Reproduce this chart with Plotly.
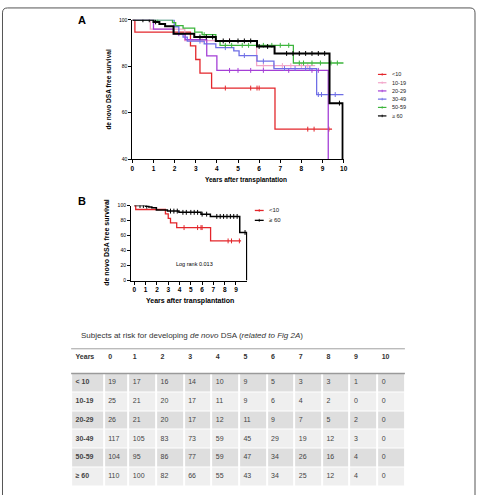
import plotly.graph_objects as go

W, H = 480, 498
FONT = "Liberation Sans, Arial, sans-serif"

# ---------------- data ----------------
groups = ["<10", "10-19", "20-29", "30-49", "50-59", "≥ 60"]
colors = ["#e3262b", "#f2a5c9", "#a43fd6", "#6e6ee6", "#3db53d", "#000000"]

lt10_t = [0, 0.12, 2.75, 3.0, 3.2, 3.75, 6.75, 9.45]
lt10_s = [100, 94.7, 88.8, 82.9, 77.0, 70.6, 52.9, 52.9]
lt10_c = [4.4, 5.6, 5.9, 6.0, 8.3, 8.6, 9.3]

g1019_t = [0, 0.85, 2.48, 5.88, 8.65]
g1019_s = [100, 96.0, 91.0, 80.3, 80.3]
g1019_c = [3.3, 4.6, 6.2, 6.7, 7.1, 7.5, 8.0, 8.3]

g2029_t = [0, 1.0, 1.95, 2.5, 3.52, 4.0, 9.27]
g2029_s = [100, 96.0, 94.0, 91.5, 84.5, 78.2, 0]
g2029_c = [2.2, 4.6, 5.0, 5.6, 6.2, 7.4, 8.5, 8.8]

g3049_t = [0, 1.98, 2.2, 2.4, 2.6, 3.4, 3.95, 4.8, 5.05, 5.9, 6.7, 8.72, 10.0]
g3049_s = [100, 97.0, 94.0, 92.5, 90.8, 89.6, 88.0, 86.6, 84.6, 82.2, 79.0, 67.8, 67.8]
g3049_c = [3.2, 4.4, 5.3, 6.2, 7.2, 7.7, 8.2, 8.4, 8.8, 8.95, 9.6]

g5059_t = [0, 1.9, 2.05, 2.4, 2.95, 3.3, 3.95, 4.15, 7.62, 10.0]
g5059_s = [100, 98.8, 97.5, 96.4, 94.7, 93.6, 91.0, 89.0, 81.4, 81.4]
g5059_c = [1.2, 3.4, 4.4, 4.7, 5.2, 5.5, 6.2, 6.6, 7.0, 7.4, 7.9, 8.1, 8.5, 8.9, 9.4, 9.7]

ge60_t = [0, 1.0, 1.28, 1.55, 1.95, 2.93, 3.95, 5.9, 6.73, 9.33, 9.95]
ge60_s = [100, 99.1, 98.2, 97.2, 94.0, 92.6, 90.9, 88.5, 85.5, 64.1, 0]
ge60_c = [0.5, 0.8, 1.1, 3.2, 3.5, 3.8, 4.3, 4.6, 5.0, 5.3, 5.6, 6.0, 6.4, 7.3, 7.6, 7.9, 8.2, 8.5, 8.8, 9.1, 9.8]

curves = [
    (lt10_t, lt10_s, lt10_c),
    (g1019_t, g1019_s, g1019_c),
    (g2029_t, g2029_s, g2029_c),
    (g3049_t, g3049_s, g3049_c),
    (g5059_t, g5059_s, g5059_c),
    (ge60_t, ge60_s, ge60_c),
]

log_rank_text = "Log rank 0.013"

table_years = ["0", "1", "2", "3", "4", "5", "6", "7", "8", "9", "10"]
table_rows = ["&lt; 10", "10-19", "20-29", "30-49", "50-59", "≥ 60"]
risk_lt10 = [19, 17, 16, 14, 10, 9, 5, 3, 3, 1, 0]
risk_1019 = [25, 21, 20, 17, 11, 9, 6, 4, 2, 0, 0]
risk_2029 = [26, 21, 20, 17, 12, 11, 9, 7, 5, 2, 0]
risk_3049 = [117, 105, 83, 73, 59, 45, 29, 19, 12, 3, 0]
risk_5059 = [104, 95, 86, 77, 59, 47, 34, 26, 16, 4, 0]
risk_ge60 = [110, 100, 82, 66, 55, 43, 34, 25, 12, 4, 0]
risk = [risk_lt10, risk_1019, risk_2029, risk_3049, risk_5059, risk_ge60]


def step_value(ts, ss, t):
    v = ss[0]
    for ti, si in zip(ts, ss):
        if ti <= t:
            v = si
    return v


def px(x):
    return x / W


def py(y):
    return 1 - y / H


fig = go.Figure()

# ---------------- panel A ----------------
for (ts, ss, cs), col, name in zip(curves, colors, groups):
    lw = 2.0 if col == "#000000" else 1.3
    fig.add_trace(go.Scatter(x=ts, y=ss, mode="lines", line=dict(color=col, width=lw, shape="hv"),
                             xaxis="x", yaxis="y", showlegend=False, hoverinfo="skip"))
    fig.add_trace(go.Scatter(x=cs, y=[step_value(ts, ss, c) for c in cs], mode="markers",
                             marker=dict(symbol="line-ns", size=3.5, line=dict(color=col, width=1)),
                             xaxis="x", yaxis="y", showlegend=False, hoverinfo="skip"))

# ---------------- panel B ----------------
for idx in (0, 5):
    ts, ss, cs = curves[idx]
    col = colors[idx]
    lw = 1.5 if idx == 5 else 1.3
    fig.add_trace(go.Scatter(x=ts, y=ss, mode="lines", line=dict(color=col, width=lw, shape="hv"),
                             xaxis="x2", yaxis="y2", showlegend=False, hoverinfo="skip"))
    fig.add_trace(go.Scatter(x=cs, y=[step_value(ts, ss, c) for c in cs], mode="markers",
                             marker=dict(symbol="line-ns", size=3.5, line=dict(color=col, width=1)),
                             xaxis="x2", yaxis="y2", showlegend=False, hoverinfo="skip"))

# ---------------- table (heatmap cells + text) ----------------
col_widths = [33, 25] + [28] * 10            # pixel widths of the columns
edges = [0]
for w in col_widths:
    edges.append(edges[-1] + w)
ROW_PX = 19.0
HEAD_PX = 25.0
n_rows = len(table_rows)
parity = [[r % 2 for _ in col_widths] for r in range(n_rows)]
fig.add_trace(go.Heatmap(
    z=parity, x=edges, y=list(range(n_rows + 1)),
    colorscale=[[0, "#dedede"], [1, "#efefef"]], zmin=0, zmax=1, showscale=False,
    xgap=2, ygap=1, hoverinfo="skip", xaxis="x3", yaxis="y3"))

head_y = -HEAD_PX / ROW_PX + 8.5 / ROW_PX
hx, hy, ht = [], [], []
for c, label in enumerate(["Years"] + table_years):
    hx.append(edges[c] + 4.5)
    hy.append(head_y)
    ht.append("<b>%s</b>" % label)
fig.add_trace(go.Scatter(x=hx, y=hy, text=ht, mode="text", textposition="middle right",
                         textfont=dict(size=7, color="#333333", family=FONT),
                         xaxis="x3", yaxis="y3", showlegend=False, hoverinfo="skip"))
cx, cy, ct = [], [], []
for r in range(n_rows):
    cx.append(edges[0] + 4.5)
    cy.append(r + 0.48)
    ct.append("<b>%s</b>" % table_rows[r])
    for c in range(len(table_years)):
        cx.append(edges[c + 1] + 4.5)
        cy.append(r + 0.48)
        ct.append(str(risk[r][c]))
fig.add_trace(go.Scatter(x=cx, y=cy, text=ct, mode="text", textposition="middle right",
                         textfont=dict(size=7, color="#444444", family=FONT),
                         xaxis="x3", yaxis="y3", showlegend=False, hoverinfo="skip"))

axis_common = dict(showline=True, linecolor="black", linewidth=1, ticks="outside", ticklen=3, tickwidth=1,
                   tickcolor="black", showgrid=False, zeroline=False, mirror=False)
hidden = dict(visible=False, showgrid=False, zeroline=False, fixedrange=True)

table_top = 350
table_bottom = 375 + ROW_PX * n_rows

fig.update_layout(
    width=W, height=H, margin=dict(l=0, r=0, t=0, b=0),
    paper_bgcolor="white", plot_bgcolor="white",
    font=dict(family=FONT, color="black"),
    xaxis=dict(domain=[px(132), px(346)], range=[0, 10], tickvals=list(range(11)),
               tickfont=dict(size=6.5, weight="bold"), anchor="y", **axis_common),
    yaxis=dict(domain=[py(158), py(17)], range=[40, 100], tickvals=[40, 60, 80, 100],
               tickfont=dict(size=5), anchor="x", **axis_common),
    xaxis2=dict(domain=[px(130.6), px(248.4)], range=[-0.3, 10], tickvals=list(range(10)),
                tickfont=dict(size=6.5, weight="bold"), anchor="y2", **axis_common),
    yaxis2=dict(domain=[py(281), py(205)], range=[0, 100], tickvals=[0, 20, 40, 60, 80, 100],
                tickfont=dict(size=5), anchor="x2", **axis_common),
    xaxis3=dict(domain=[px(70), px(70 + edges[-1])], range=[0, edges[-1]], anchor="y3", **hidden),
    yaxis3=dict(domain=[py(table_bottom), py(table_top)], range=[n_rows, -HEAD_PX / ROW_PX],
                anchor="x3", **hidden),
)

ann = []
# panel labels
ann.append(dict(text="<b>A</b>", x=px(81), y=py(17), xref="paper", yref="paper", showarrow=False,
                xanchor="center", yanchor="middle", font=dict(size=11)))
ann.append(dict(text="<b>B</b>", x=px(81), y=py(200), xref="paper", yref="paper", showarrow=False,
                xanchor="center", yanchor="middle", font=dict(size=11)))
# axis titles
ann.append(dict(text="<b>de novo DSA free survival</b>", x=px(108), y=py(87), xref="paper", yref="paper",
                showarrow=False, textangle=-90, xanchor="center", yanchor="middle", font=dict(size=6.5)))
ann.append(dict(text="<b>Years after transplantation</b>", x=px(247), y=py(179), xref="paper", yref="paper",
                showarrow=False, xanchor="center", yanchor="middle", font=dict(size=6.5)))
ann.append(dict(text="<b>de novo DSA free survival</b>", x=px(105), y=py(242), xref="paper", yref="paper",
                showarrow=False, textangle=-90, xanchor="center", yanchor="middle", font=dict(size=7)))
ann.append(dict(text="<b>Years after transplantation</b>", x=px(190), y=py(302), xref="paper", yref="paper",
                showarrow=False, xanchor="center", yanchor="middle", font=dict(size=7)))
ann.append(dict(text=log_rank_text, x=px(195), y=py(264), xref="paper", yref="paper", showarrow=False,
                xanchor="center", yanchor="middle", font=dict(size=5.5)))
# table title
ann.append(dict(text="Subjects at risk for developing <i>de novo</i> DSA (<i>related to Fig 2A</i>)",
                x=px(78), y=py(337), xref="paper", yref="paper", showarrow=False,
                xanchor="left", yanchor="middle", font=dict(size=8, color="#333333")))

shapes = []
# legend A
legA_y = [72.3, 80.7, 89.0, 97.3, 105.7, 114.3]
for name, col, yy in zip(groups, colors, legA_y):
    shapes.append(dict(type="line", xref="paper", yref="paper", x0=px(380.7), x1=px(389.3), y0=py(yy), y1=py(yy),
                       line=dict(color=col, width=1.2)))
    shapes.append(dict(type="line", xref="paper", yref="paper", x0=px(385), x1=px(385), y0=py(yy - 1.3),
                       y1=py(yy + 1.3), line=dict(color=col, width=0.8)))
    ann.append(dict(text=name.replace("<", "&lt;"), x=px(393.3), y=py(yy), xref="paper", yref="paper",
                    showarrow=False, xanchor="left", yanchor="middle", font=dict(size=5.5, color="#222")))
# legend B
for idx, yy in ((0, 210), (5, 220)):
    col = colors[idx]
    shapes.append(dict(type="line", xref="paper", yref="paper", x0=px(256), x1=px(265), y0=py(yy), y1=py(yy),
                       line=dict(color=col, width=1.3)))
    shapes.append(dict(type="line", xref="paper", yref="paper", x0=px(260.5), x1=px(260.5), y0=py(yy - 1.5),
                       y1=py(yy + 1.5), line=dict(color=col, width=0.8)))
    ann.append(dict(text=groups[idx].replace("<", "&lt;"), x=px(268.5), y=py(yy), xref="paper", yref="paper",
                    showarrow=False, xanchor="left", yanchor="middle", font=dict(size=6, color="#222")))

# table header rules
shapes.append(dict(type="line", xref="paper", yref="paper", x0=px(70), x1=px(408), y0=py(350), y1=py(350),
                   line=dict(color="#a0a0a0", width=1)))
shapes.append(dict(type="line", xref="paper", yref="paper", x0=px(70), x1=px(408), y0=py(375), y1=py(375),
                   line=dict(color="#9a9a9a", width=1.5)))

# outer frame
r = 5
frame = "M %f,%f L %f,%f Q %f,%f %f,%f L %f,%f Q %f,%f %f,%f L %f,%f" % (
    px(0.5), py(498), px(0.5), py(5 + r), px(0.5), py(5), px(0.5 + r), py(5),
    px(479 - r), py(5), px(479), py(5), px(479), py(5 + r), px(479), py(498))
shapes.append(dict(type="path", xref="paper", yref="paper", path=frame, line=dict(color="#555555", width=1)))

fig.update_layout(annotations=ann, shapes=shapes)
fig.write_html("out.html")
